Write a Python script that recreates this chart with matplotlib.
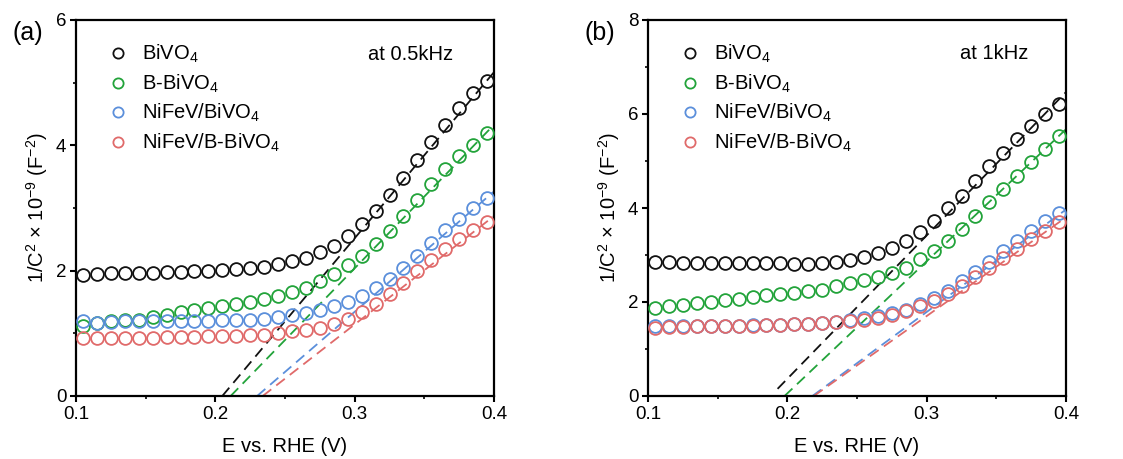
import numpy as np
import matplotlib
matplotlib.use("Agg")
import matplotlib.pyplot as plt
from matplotlib.ticker import MultipleLocator

plt.rcParams['font.family'] = ['Liberation Sans', 'DejaVu Sans']
plt.rcParams['mathtext.fontset'] = 'custom'
plt.rcParams['mathtext.rm'] = 'Liberation Sans'
plt.rcParams['mathtext.it'] = 'Liberation Sans:italic'
plt.rcParams['mathtext.bf'] = 'Liberation Sans:bold'

# ---------------- data ----------------
potential = [0.105, 0.115, 0.125, 0.135, 0.145, 0.155, 0.165, 0.175, 0.185, 0.195,
             0.205, 0.215, 0.225, 0.235, 0.245, 0.255, 0.265, 0.275, 0.285, 0.295,
             0.305, 0.315, 0.325, 0.335, 0.345, 0.355, 0.365, 0.375, 0.385, 0.395]

labels = ['BiVO$_4$', 'B-BiVO$_4$', 'NiFeV/BiVO$_4$', 'NiFeV/B-BiVO$_4$']
colors = ['#111111', '#22a33a', '#5b8fdb', '#e06a6a']

# (a) 0.5 kHz
a_bivo4 = [1.93, 1.95, 1.96, 1.96, 1.97, 1.97, 1.98, 1.98, 1.99, 2.00,
           2.01, 2.02, 2.04, 2.06, 2.10, 2.15, 2.21, 2.29, 2.40, 2.55,
           2.74, 2.96, 3.21, 3.48, 3.76, 4.05, 4.32, 4.59, 4.83, 5.03]
a_bbivo4 = [1.12, 1.16, 1.19, 1.21, 1.22, 1.26, 1.29, 1.34, 1.37, 1.41,
            1.44, 1.47, 1.50, 1.54, 1.59, 1.66, 1.73, 1.83, 1.95, 2.09,
            2.24, 2.42, 2.63, 2.88, 3.13, 3.39, 3.63, 3.83, 4.01, 4.19]
a_nifev_bivo4 = [1.19, 1.17, 1.18, 1.19, 1.19, 1.19, 1.19, 1.20, 1.20, 1.20,
                 1.21, 1.21, 1.22, 1.23, 1.26, 1.29, 1.33, 1.38, 1.43, 1.50,
                 1.59, 1.72, 1.87, 2.04, 2.24, 2.44, 2.65, 2.83, 3.00, 3.16]
a_nifev_bbivo4 = [0.93, 0.93, 0.93, 0.93, 0.93, 0.93, 0.94, 0.94, 0.94, 0.95,
                  0.95, 0.96, 0.97, 0.98, 1.00, 1.03, 1.06, 1.09, 1.15, 1.23,
                  1.34, 1.47, 1.63, 1.80, 2.00, 2.17, 2.34, 2.50, 2.65, 2.77]

# (b) 1 kHz
b_bivo4 = [2.85, 2.85, 2.84, 2.84, 2.84, 2.84, 2.83, 2.83, 2.82, 2.82,
           2.81, 2.81, 2.82, 2.85, 2.90, 2.96, 3.05, 3.15, 3.29, 3.49,
           3.72, 4.00, 4.25, 4.58, 4.90, 5.18, 5.47, 5.75, 6.00, 6.22]
b_bbivo4 = [1.87, 1.91, 1.94, 1.98, 2.01, 2.04, 2.07, 2.11, 2.14, 2.16,
            2.19, 2.23, 2.26, 2.34, 2.41, 2.46, 2.54, 2.62, 2.73, 2.91,
            3.09, 3.30, 3.55, 3.83, 4.12, 4.40, 4.69, 4.97, 5.25, 5.54]
b_nifev_bivo4 = [1.50, 1.48, 1.49, 1.49, 1.50, 1.50, 1.50, 1.51, 1.51, 1.52,
                 1.53, 1.54, 1.56, 1.58, 1.61, 1.65, 1.70, 1.76, 1.84, 1.95,
                 2.08, 2.24, 2.44, 2.64, 2.86, 3.08, 3.30, 3.52, 3.72, 3.90]
b_nifev_bbivo4 = [1.45, 1.47, 1.47, 1.48, 1.49, 1.49, 1.50, 1.50, 1.51, 1.52,
                  1.53, 1.54, 1.55, 1.57, 1.59, 1.62, 1.67, 1.73, 1.81, 1.91,
                  2.03, 2.18, 2.35, 2.53, 2.73, 2.93, 3.13, 3.33, 3.52, 3.70]

# Mott-Schottky linear fits: x-intercept, slope, start of dashed line
a_fit_x0 = [0.205, 0.211, 0.230, 0.234]
a_fit_slope = [26.5, 22.9, 19.2, 17.3]
a_fit_start = [0.205, 0.211, 0.230, 0.234]

b_fit_x0 = [0.188, 0.198, 0.218, 0.219]
b_fit_slope = [30.5, 28.1, 21.8, 21.0]
b_fit_start = [0.193, 0.198, 0.218, 0.219]

fit_end = 0.4

# ---------------- figure ----------------
W, H = 1123, 459
fig = plt.figure(figsize=(W / 100, H / 100), dpi=100)

def px_axes(x0, y0, x1, y1):
    return fig.add_axes([x0 / W, 1 - y1 / H, (x1 - x0) / W, (y1 - y0) / H])

ax_a = px_axes(76, 20, 494, 396)
ax_b = px_axes(648, 20, 1066, 396)

panels = [
    (ax_a, [a_bivo4, a_bbivo4, a_nifev_bivo4, a_nifev_bbivo4],
     a_fit_x0, a_fit_slope, a_fit_start, 6, 2, '(a)', 'at 0.5kHz', 0.902, 0.907),
    (ax_b, [b_bivo4, b_bbivo4, b_nifev_bivo4, b_nifev_bbivo4],
     b_fit_x0, b_fit_slope, b_fit_start, 8, 2, '(b)', 'at 1kHz', 0.909, 0.912),
]

x = np.array(potential)
for ax, series, fx0, fsl, fst, ymax, ymaj, tag, freq, fx, fy in panels:
    for ys, c, lab, x0, sl, xs in zip(series, colors, labels, fx0, fsl, fst):
        xl = np.array([xs, fit_end])
        ax.plot(xl, sl * (xl - x0), ls=(0, (6, 3.5)), color=c, lw=1.3, zorder=2)
        ax.plot(x, ys, 'o', ms=9.2, mfc='none', mec=c, mew=1.3, label=lab, zorder=3)
    ax.set_xlim(0.1, 0.4)
    ax.set_ylim(0, ymax)
    ax.xaxis.set_minor_locator(MultipleLocator(0.05))
    ax.yaxis.set_major_locator(MultipleLocator(ymaj))
    ax.yaxis.set_minor_locator(MultipleLocator(ymaj / 2))
    ax.set_xticks([0.1, 0.2, 0.3, 0.4])
    ax.set_xticklabels(['0.1', '0.2', '0.3', '0.4'])
    ax.tick_params(which='major', direction='out', length=4, width=1.5, labelsize=13.5, pad=3)
    ax.tick_params(which='minor', direction='out', length=2.5, width=1.2)
    for s in ax.spines.values():
        s.set_linewidth(1.6)
    ax.set_xlabel('E vs. RHE (V)', fontsize=14.5, labelpad=10)
    ax.set_ylabel('1/C$^2$ × 10$^{-9}$ (F$^{-2}$)', fontsize=14.5, labelpad=4)
    ax.legend(loc='upper left', bbox_to_anchor=(0.06, 0.96), frameon=False,
              fontsize=14.5, handletextpad=0.75, labelspacing=0.36,
              handlelength=0.9, markerscale=0.8, borderaxespad=0)
    ax.text(fx, fy, freq, transform=ax.transAxes, ha='right', va='center', fontsize=14.5)
    ax.text(-0.115, 0.966, tag, transform=ax.transAxes, ha='center', va='center', fontsize=18)

fig.savefig('out.png', dpi=100)
